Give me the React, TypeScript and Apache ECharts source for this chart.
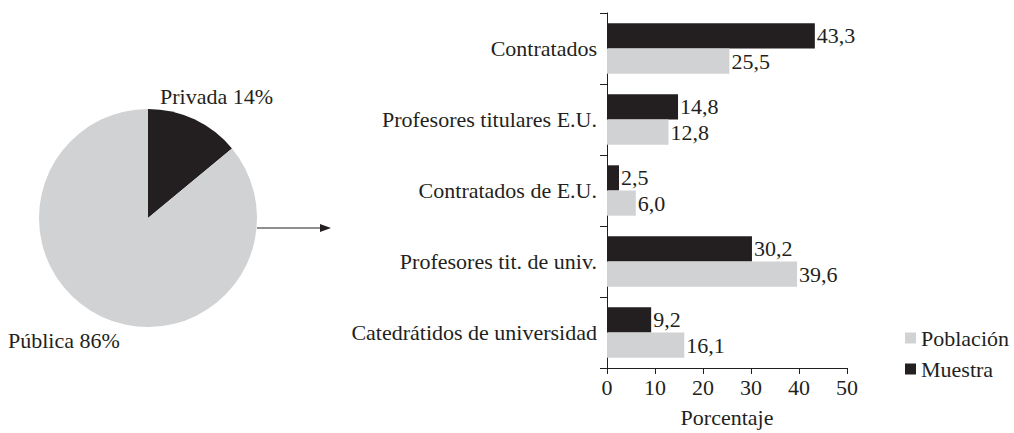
import React, { useEffect, useRef } from "react";
import * as echarts from "echarts";

const pieNames = ["Privada", "Pública"];
const pieValues = [14, 86];

const categories = [
  "Contratados",
  "Profesores titulares E.U.",
  "Contratados de E.U.",
  "Profesores tit. de univ.",
  "Catedrátidos de universidad",
];
const muestra = [43.3, 14.8, 2.5, 30.2, 9.2];
const poblacion = [25.5, 12.8, 6.0, 39.6, 16.1];
const xTicks = { min: 0, max: 50, interval: 10 };
const axisTitle = "Porcentaje";

const BLACK = "#231f20";
const GRAY = "#d1d2d4";
const FONT = "Liberation Serif";
const FS = 22;

const fmt = (v: number) => v.toFixed(1).replace(".", ",");

export default function App() {
  const ref = useRef<HTMLDivElement>(null);
  useEffect(() => {
    if (!ref.current) return;
    const chart = echarts.init(ref.current, undefined, { renderer: "svg" });
    const labelPos = [
      { x: 160, y: 96 },
      { x: 8, y: 340 },
    ];
    const barLabel = {
      show: true,
      position: "right",
      distance: 2,
      formatter: (p: any) => fmt(p.value),
      fontFamily: FONT,
      fontSize: FS,
      color: BLACK,
    };
    chart.setOption({
      animation: false,
      legend: {
        data: ["Población", "Muestra"],
        orient: "vertical",
        left: 900,
        top: 322,
        icon: "rect",
        itemWidth: 11,
        itemHeight: 11,
        itemGap: 9,
        textStyle: { fontFamily: FONT, fontSize: FS, color: BLACK },
      },
      grid: { left: 607, top: 13, width: 240, height: 360, containLabel: false },
      xAxis: {
        type: "value",
        min: xTicks.min,
        max: xTicks.max,
        interval: xTicks.interval,
        splitLine: { show: false },
        axisLine: { show: true, lineStyle: { color: BLACK, width: 1 } },
        axisTick: { show: true, length: 6, lineStyle: { color: BLACK } },
        axisLabel: { fontFamily: FONT, fontSize: FS, color: BLACK, margin: 8 },
        name: axisTitle,
        nameLocation: "middle",
        nameGap: 38,
        nameTextStyle: { fontFamily: FONT, fontSize: FS, color: BLACK },
      },
      yAxis: {
        type: "category",
        inverse: true,
        data: categories,
        axisLine: { show: true, lineStyle: { color: BLACK, width: 1 } },
        axisTick: { show: true, length: 7, alignWithLabel: false, lineStyle: { color: BLACK } },
        axisLabel: { fontFamily: FONT, fontSize: FS, color: BLACK, margin: 10 },
      },
      series: [
        {
          type: "pie",
          center: [148, 218],
          radius: 109,
          startAngle: 90,
          clockwise: true,
          data: pieNames.map((n, i) => ({
            name: n,
            value: pieValues[i],
            itemStyle: { color: i === 0 ? BLACK : GRAY },
          })),
          label: {
            show: true,
            position: "inside",
            formatter: (p: any) => `${p.name} ${p.value}%`,
            fontFamily: FONT,
            fontSize: FS,
            color: BLACK,
            overflow: "none",
          },
          labelLine: { show: false },
          labelLayout: (p: any) => ({
            x: labelPos[p.dataIndex].x,
            y: labelPos[p.dataIndex].y,
            align: "left",
            verticalAlign: "middle",
          }),
          emphasis: { disabled: true },
        },
        {
          name: "Muestra",
          type: "bar",
          data: muestra,
          itemStyle: { color: BLACK },
          barCategoryGap: "29%",
          barGap: "0%",
          label: barLabel,
        },
        {
          name: "Población",
          type: "bar",
          data: poblacion,
          itemStyle: { color: GRAY },
          barCategoryGap: "29%",
          barGap: "0%",
          label: barLabel,
        },
      ],
      graphic: [
        {
          type: "line",
          shape: { x1: 257, y1: 228, x2: 322, y2: 228 },
          style: { stroke: BLACK, lineWidth: 1 },
        },
        {
          type: "polygon",
          shape: { points: [[320, 224], [331, 228], [320, 232]] },
          style: { fill: BLACK },
        },
      ],
    });
    return () => chart.dispose();
  }, []);
  return (
    <div
      ref={ref}
      style={{ position: "fixed", left: 0, top: 0, width: 1014, height: 433, background: "#fff" }}
    />
  );
}
